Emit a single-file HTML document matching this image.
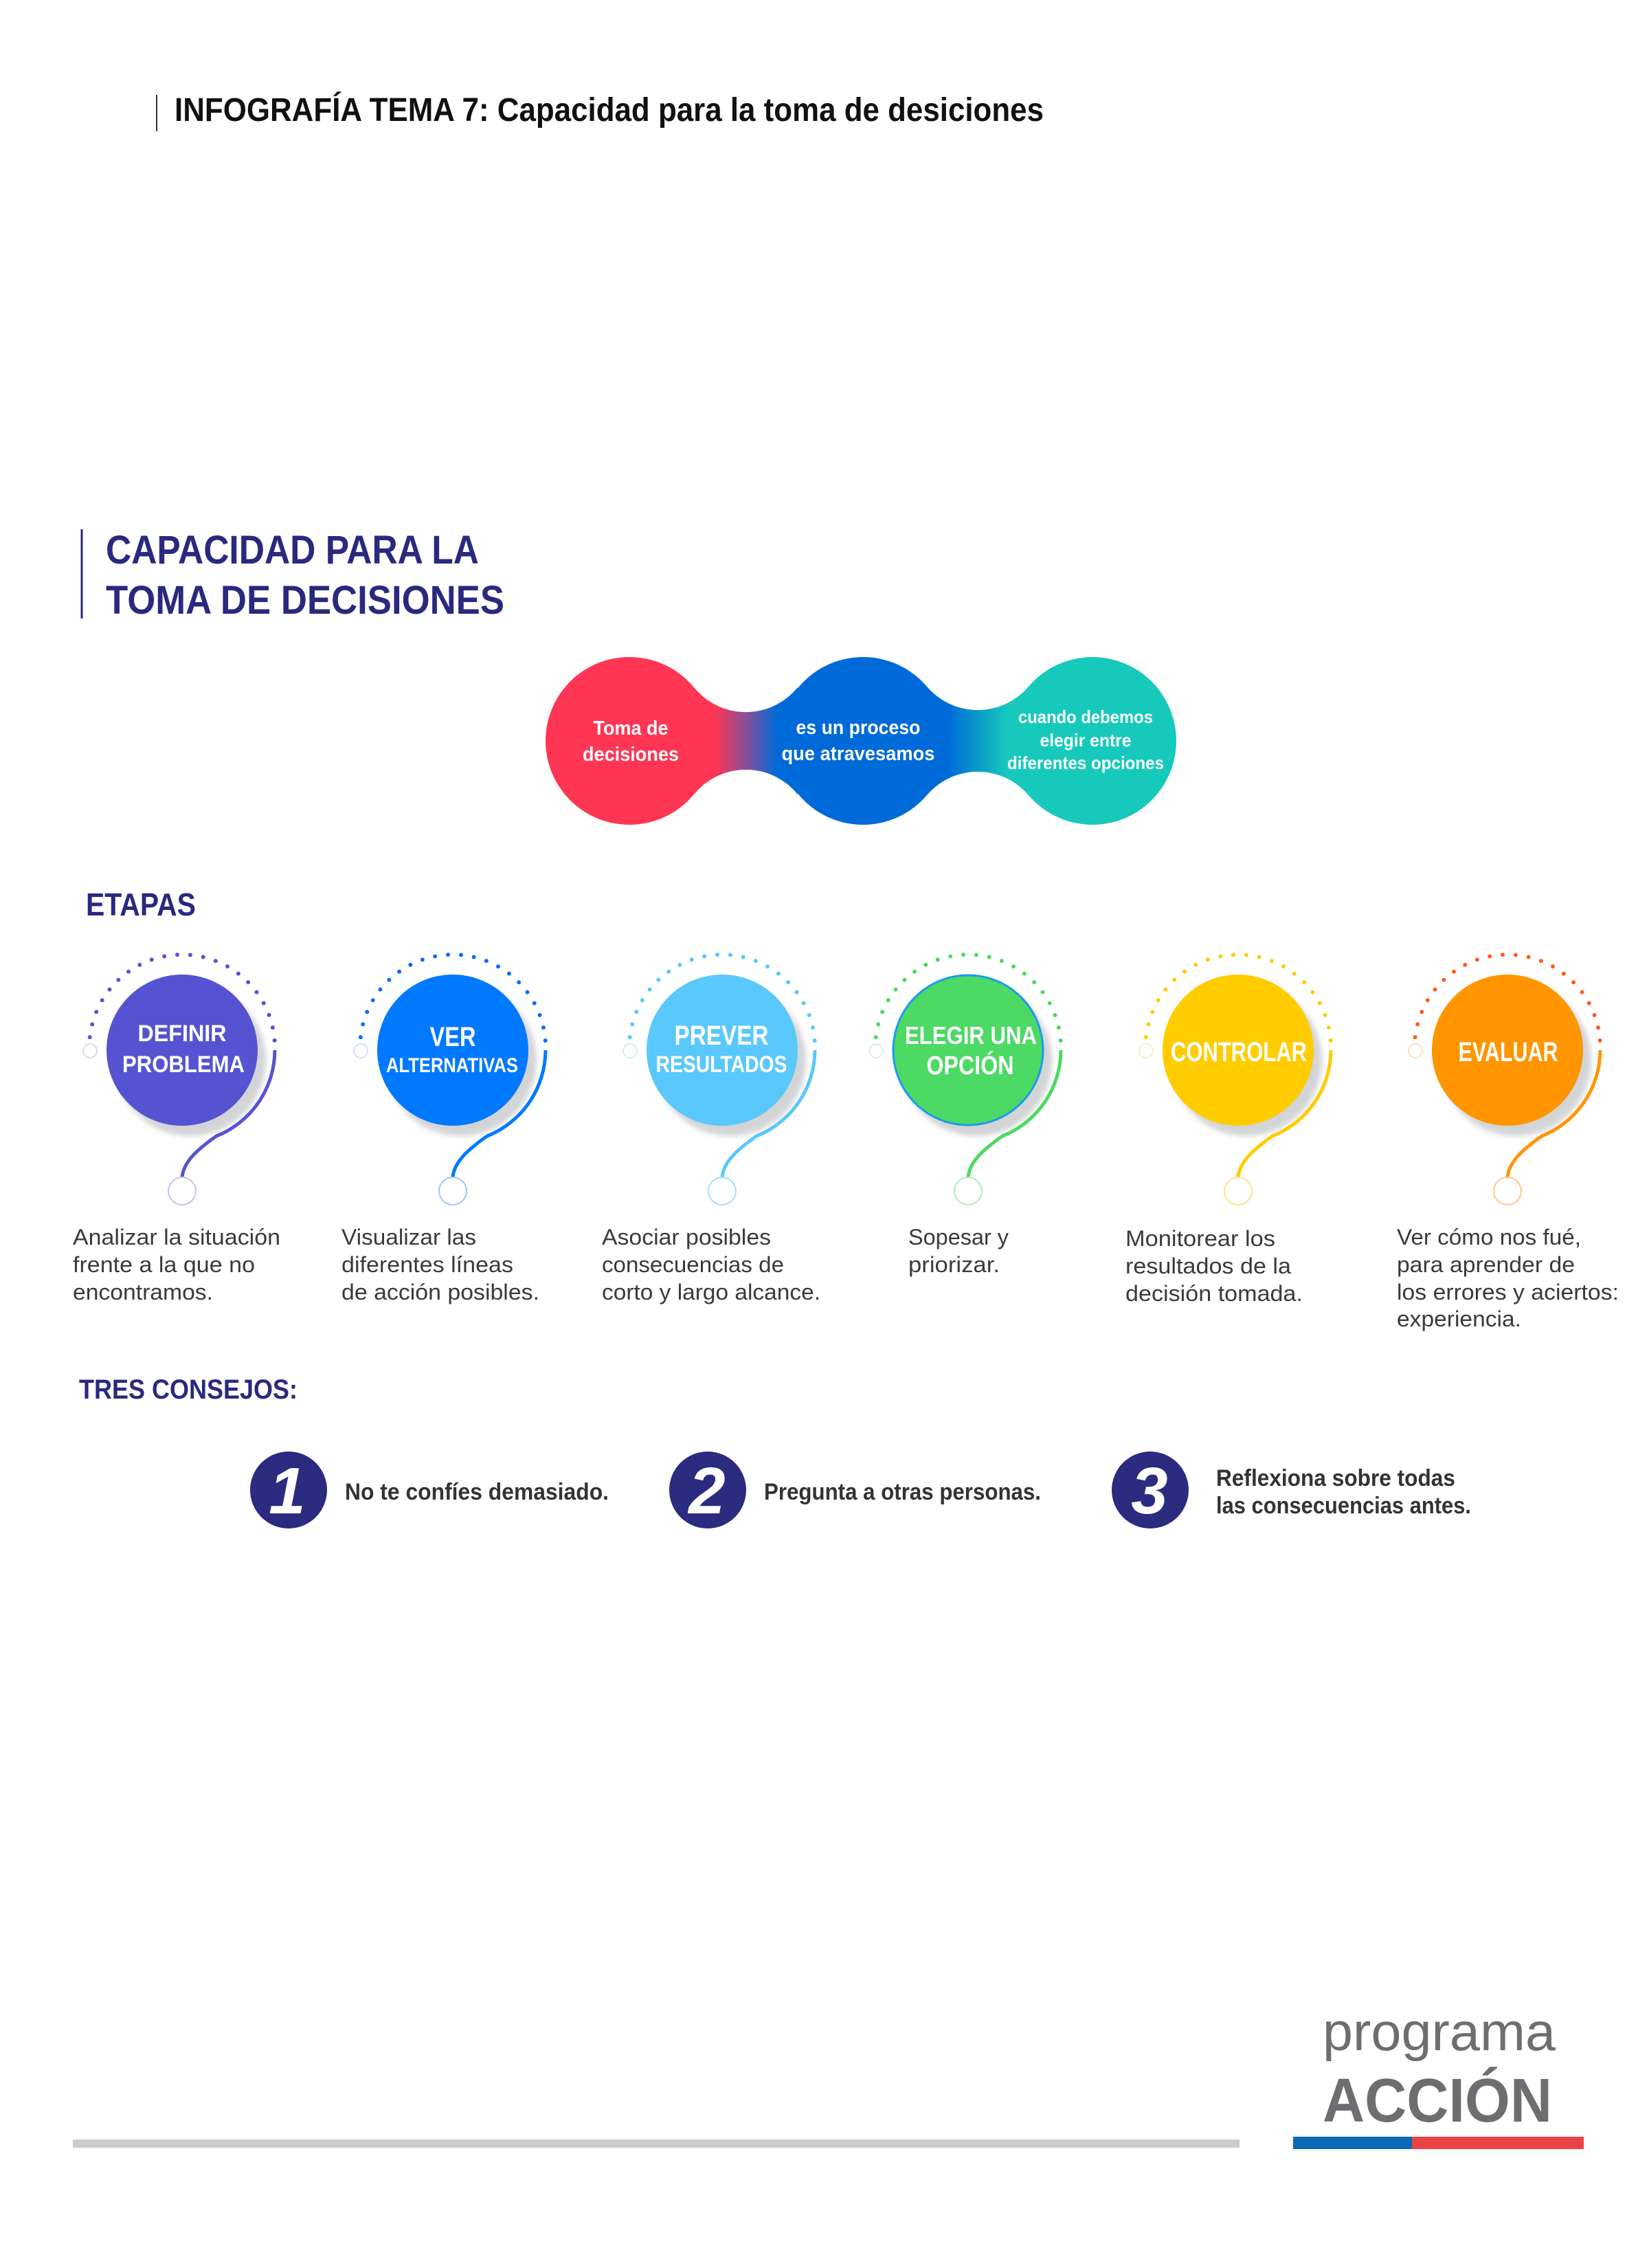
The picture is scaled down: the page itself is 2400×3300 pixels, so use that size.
<!DOCTYPE html>
<html><head><meta charset="utf-8"><style>
html,body{margin:0;padding:0;background:#fff;}
svg{display:block;}
text{font-family:"Liberation Sans",sans-serif;}
</style></head><body>
<svg width="2400" height="3300" viewBox="0 0 2400 3300" xmlns="http://www.w3.org/2000/svg">
<defs>
<linearGradient id="g1" x1="1010" y1="0" x2="1161" y2="0" gradientUnits="userSpaceOnUse">
<stop offset="0.2" stop-color="#ff3653"/><stop offset="0.5" stop-color="#8a4f9a"/><stop offset="0.8" stop-color="#006ad8"/></linearGradient>
<linearGradient id="g2" x1="1350" y1="0" x2="1496" y2="0" gradientUnits="userSpaceOnUse">
<stop offset="0.2" stop-color="#006ad8"/><stop offset="0.8" stop-color="#17c9bb"/></linearGradient>
<filter id="bl" x="-20%" y="-20%" width="140%" height="140%"><feGaussianBlur stdDeviation="4"/></filter>
</defs>

<line x1="228" y1="138" x2="228" y2="191" stroke="#333" stroke-width="2"/>
<text x="254" y="176" font-size="48" font-weight="bold" fill="#111" textLength="1265" lengthAdjust="spacingAndGlyphs">INFOGRAFÍA TEMA 7: Capacidad para la toma de desiciones</text>

<line x1="119" y1="770" x2="119" y2="900" stroke="#29297f" stroke-width="3"/>
<text x="154" y="820" font-size="58" font-weight="bold" fill="#29297f" textLength="543" lengthAdjust="spacingAndGlyphs">CAPACIDAD PARA LA</text>
<text x="154" y="893" font-size="58" font-weight="bold" fill="#29297f" textLength="580" lengthAdjust="spacingAndGlyphs">TOMA DE DECISIONES</text>

<circle cx="916" cy="1078" r="122" fill="#ff3653"/>
<circle cx="1256" cy="1078" r="122" fill="#006ad8"/>
<circle cx="1590" cy="1078" r="122" fill="#17c9bb"/>
<path d="M1010 1000 A97 97 0 0 0 1161 1000 L1161 1156 A97 97 0 0 0 1010 1156 Z" fill="url(#g1)"/>
<path d="M1350 1000 A97 97 0 0 0 1496 1000 L1496 1156 A97 97 0 0 0 1350 1156 Z" fill="url(#g2)"/>
<g fill="#fff" font-weight="bold" text-anchor="middle">
<text x="918" y="1069" font-size="29" textLength="109" lengthAdjust="spacingAndGlyphs">Toma de</text>
<text x="918" y="1107" font-size="29" textLength="140" lengthAdjust="spacingAndGlyphs">decisiones</text>
<text x="1249" y="1068" font-size="29" textLength="181" lengthAdjust="spacingAndGlyphs">es un proceso</text>
<text x="1249" y="1106" font-size="29" textLength="223" lengthAdjust="spacingAndGlyphs">que atravesamos</text>
<text x="1580" y="1052" font-size="26" textLength="196" lengthAdjust="spacingAndGlyphs">cuando debemos</text>
<text x="1580" y="1086" font-size="26" textLength="133" lengthAdjust="spacingAndGlyphs">elegir entre</text>
<text x="1580" y="1119" font-size="26" textLength="228" lengthAdjust="spacingAndGlyphs">diferentes opciones</text>
</g>

<text x="125" y="1332" font-size="46" font-weight="bold" fill="#29297f" textLength="160" lengthAdjust="spacingAndGlyphs">ETAPAS</text>

<g>
<circle cx="277" cy="1543" r="110" fill="#d3d4d6" filter="url(#bl)"/>
<path d="M130 1528 A135 135 0 0 1 400 1520" fill="none" stroke="#5653d2" stroke-width="6" stroke-linecap="round" stroke-dasharray="0 19"/>
<path d="M400 1528 A135 135 0 0 1 315 1653 C288 1672 267 1690 265 1713" fill="none" stroke="#5653d2" stroke-width="5"/>
<circle cx="265" cy="1528" r="110" fill="#5653d2"/>
<circle cx="131" cy="1529" r="10" fill="#fff" stroke="#d8d8f0" stroke-width="2"/>
<circle cx="265" cy="1733" r="20" fill="#fff" stroke="#c5c4ee" stroke-width="2"/>
<g fill="#fff" font-weight="bold" text-anchor="middle">
<text x="265" y="1515" font-size="34" textLength="129" lengthAdjust="spacingAndGlyphs">DEFINIR</text>
<text x="267" y="1560" font-size="34" textLength="178" lengthAdjust="spacingAndGlyphs">PROBLEMA</text>
</g>
</g>
<g>
<circle cx="671" cy="1543" r="110" fill="#d3d4d6" filter="url(#bl)"/>
<path d="M524 1528 A135 135 0 0 1 794 1520" fill="none" stroke="#0a6cff" stroke-width="6" stroke-linecap="round" stroke-dasharray="0 19"/>
<path d="M794 1528 A135 135 0 0 1 709 1653 C682 1672 661 1690 659 1713" fill="none" stroke="#0079fe" stroke-width="5"/>
<circle cx="659" cy="1528" r="110" fill="#0079fe"/>
<circle cx="525" cy="1529" r="10" fill="#fff" stroke="#cfe2fb" stroke-width="2"/>
<circle cx="659" cy="1733" r="20" fill="#fff" stroke="#9cc8fb" stroke-width="2"/>
<g fill="#fff" font-weight="bold" text-anchor="middle">
<text x="659" y="1522" font-size="40" textLength="67" lengthAdjust="spacingAndGlyphs">VER</text>
<text x="658" y="1560" font-size="30" textLength="192" lengthAdjust="spacingAndGlyphs">ALTERNATIVAS</text>
</g>
</g>
<g>
<circle cx="1063" cy="1543" r="110" fill="#d3d4d6" filter="url(#bl)"/>
<path d="M916 1528 A135 135 0 0 1 1186 1520" fill="none" stroke="#5ac8fa" stroke-width="6" stroke-linecap="round" stroke-dasharray="0 19"/>
<path d="M1186 1528 A135 135 0 0 1 1101 1653 C1074 1672 1053 1690 1051 1713" fill="none" stroke="#5ac8fa" stroke-width="5"/>
<circle cx="1051" cy="1528" r="110" fill="#5ac8fa"/>
<circle cx="917" cy="1529" r="10" fill="#fff" stroke="#d5eefb" stroke-width="2"/>
<circle cx="1051" cy="1733" r="20" fill="#fff" stroke="#a8defa" stroke-width="2"/>
<g fill="#fff" font-weight="bold" text-anchor="middle">
<text x="1050" y="1520" font-size="40" textLength="137" lengthAdjust="spacingAndGlyphs">PREVER</text>
<text x="1050" y="1560" font-size="34" textLength="191" lengthAdjust="spacingAndGlyphs">RESULTADOS</text>
</g>
</g>
<g>
<circle cx="1421" cy="1543" r="110" fill="#d3d4d6" filter="url(#bl)"/>
<path d="M1274 1528 A135 135 0 0 1 1544 1520" fill="none" stroke="#4cd964" stroke-width="6" stroke-linecap="round" stroke-dasharray="0 19"/>
<path d="M1544 1528 A135 135 0 0 1 1459 1653 C1432 1672 1411 1690 1409 1713" fill="none" stroke="#4cd964" stroke-width="5"/>
<circle cx="1409" cy="1528" r="109" fill="#4cd964" stroke="#1a9bf0" stroke-width="3"/>
<circle cx="1275" cy="1529" r="10" fill="#fff" stroke="#d5f3da" stroke-width="2"/>
<circle cx="1409" cy="1733" r="20" fill="#fff" stroke="#b0ecbb" stroke-width="2"/>
<g fill="#fff" font-weight="bold" text-anchor="middle">
<text x="1413" y="1519" font-size="36" textLength="192" lengthAdjust="spacingAndGlyphs">ELEGIR UNA</text>
<text x="1412" y="1563" font-size="38" textLength="127" lengthAdjust="spacingAndGlyphs">OPCIÓN</text>
</g>
</g>
<g>
<circle cx="1814" cy="1543" r="110" fill="#d3d4d6" filter="url(#bl)"/>
<path d="M1667 1528 A135 135 0 0 1 1937 1520" fill="none" stroke="#ffcc00" stroke-width="6" stroke-linecap="round" stroke-dasharray="0 19"/>
<path d="M1937 1528 A135 135 0 0 1 1852 1653 C1825 1672 1804 1690 1802 1713" fill="none" stroke="#ffcc00" stroke-width="5"/>
<circle cx="1802" cy="1528" r="110" fill="#ffcc00"/>
<circle cx="1668" cy="1529" r="10" fill="#fff" stroke="#fdeebf" stroke-width="2"/>
<circle cx="1802" cy="1733" r="20" fill="#fff" stroke="#fde28a" stroke-width="2"/>
<text x="1803" y="1544" font-size="40" font-weight="bold" fill="#fff" text-anchor="middle" textLength="198" lengthAdjust="spacingAndGlyphs">CONTROLAR</text>
</g>
<g>
<circle cx="2206" cy="1543" r="110" fill="#d3d4d6" filter="url(#bl)"/>
<path d="M2059 1528 A135 135 0 0 1 2329 1520" fill="none" stroke="#ff5a1f" stroke-width="6" stroke-linecap="round" stroke-dasharray="0 19"/>
<path d="M2329 1528 A135 135 0 0 1 2244 1653 C2217 1672 2196 1690 2194 1713" fill="none" stroke="#ff9500" stroke-width="5"/>
<circle cx="2194" cy="1528" r="110" fill="#ff9500"/>
<circle cx="2060" cy="1529" r="10" fill="#fff" stroke="#fde0c2" stroke-width="2"/>
<circle cx="2194" cy="1733" r="20" fill="#fff" stroke="#fdc98a" stroke-width="2"/>
<text x="2195" y="1544" font-size="40" font-weight="bold" fill="#fff" text-anchor="middle" textLength="145" lengthAdjust="spacingAndGlyphs">EVALUAR</text>
</g>

<g font-size="32" fill="#3a3a3a">
<text x="106" y="1811" textLength="302" lengthAdjust="spacingAndGlyphs">Analizar la situación</text>
<text x="106" y="1851" textLength="265" lengthAdjust="spacingAndGlyphs">frente a la que no</text>
<text x="106" y="1891" textLength="204" lengthAdjust="spacingAndGlyphs">encontramos.</text>
<text x="497" y="1811" textLength="196" lengthAdjust="spacingAndGlyphs">Visualizar las</text>
<text x="497" y="1851" textLength="250" lengthAdjust="spacingAndGlyphs">diferentes líneas</text>
<text x="497" y="1891" textLength="288" lengthAdjust="spacingAndGlyphs">de acción posibles.</text>
<text x="876" y="1811" textLength="246" lengthAdjust="spacingAndGlyphs">Asociar posibles</text>
<text x="876" y="1851" textLength="265" lengthAdjust="spacingAndGlyphs">consecuencias de</text>
<text x="876" y="1891" textLength="318" lengthAdjust="spacingAndGlyphs">corto y largo alcance.</text>
<text x="1322" y="1811" textLength="146" lengthAdjust="spacingAndGlyphs">Sopesar y</text>
<text x="1322" y="1851" textLength="133" lengthAdjust="spacingAndGlyphs">priorizar.</text>
<text x="1638" y="1813" textLength="218" lengthAdjust="spacingAndGlyphs">Monitorear los</text>
<text x="1638" y="1853" textLength="241" lengthAdjust="spacingAndGlyphs">resultados de la</text>
<text x="1638" y="1893" textLength="258" lengthAdjust="spacingAndGlyphs">decisión tomada.</text>
<text x="2033" y="1811" textLength="268" lengthAdjust="spacingAndGlyphs">Ver cómo nos fué,</text>
<text x="2033" y="1851" textLength="259" lengthAdjust="spacingAndGlyphs">para aprender de</text>
<text x="2033" y="1891" textLength="323" lengthAdjust="spacingAndGlyphs">los errores y aciertos:</text>
<text x="2033" y="1930" textLength="181" lengthAdjust="spacingAndGlyphs">experiencia.</text>
</g>

<text x="115" y="2035" font-size="40" font-weight="bold" fill="#29297f" textLength="318" lengthAdjust="spacingAndGlyphs">TRES CONSEJOS:</text>
<circle cx="420" cy="2168" r="56" fill="#2b2b80"/>
<circle cx="1030" cy="2168" r="56" fill="#2b2b80"/>
<circle cx="1674" cy="2168" r="56" fill="#2b2b80"/>
<g fill="#fff" font-weight="bold" font-style="italic" font-size="96" text-anchor="middle">
<text x="418" y="2202">1</text>
<text x="1029" y="2202">2</text>
<text x="1673" y="2202">3</text>
</g>
<g font-size="34" font-weight="bold" fill="#333">
<text x="502" y="2182" textLength="384" lengthAdjust="spacingAndGlyphs">No te confíes demasiado.</text>
<text x="1112" y="2182" textLength="403" lengthAdjust="spacingAndGlyphs">Pregunta a otras personas.</text>
<text x="1770" y="2162" textLength="348" lengthAdjust="spacingAndGlyphs">Reflexiona sobre todas</text>
<text x="1770" y="2202" textLength="371" lengthAdjust="spacingAndGlyphs">las consecuencias antes.</text>
</g>

<rect x="106" y="3113" width="1698" height="12" fill="#cbcbcb"/>
<rect x="1882" y="3109" width="173" height="18" fill="#0a6ab5"/>
<rect x="2055" y="3109" width="250" height="18" fill="#e94348"/>
<text x="1925" y="2983" font-size="78" fill="#6d6e71" textLength="339" lengthAdjust="spacingAndGlyphs">programa</text>
<text x="1925" y="3087" font-size="90" font-weight="bold" fill="#6d6e71" textLength="334" lengthAdjust="spacingAndGlyphs">ACCIÓN</text>
</svg>
</body></html>
